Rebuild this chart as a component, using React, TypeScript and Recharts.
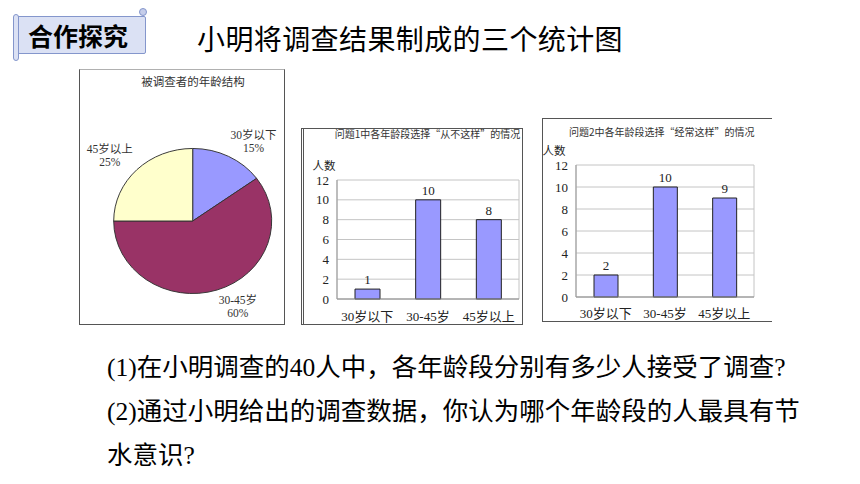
import React from 'react';
import { PieChart, Pie, Cell, BarChart, Bar, XAxis, YAxis, CartesianGrid, LabelList } from 'recharts';

// ---- data ----
const ageGroups = ['30岁以下', '30-45岁', '45岁以上'];
const pieShares = [15, 60, 25];
const neverCounts = [1, 10, 8];
const oftenCounts = [2, 10, 9];
const yTicks = [0, 2, 4, 6, 8, 10, 12];
const pieColors = ['#9999FF', '#993366', '#FFFFCC'];

const heading = '合作探究';
const mainTitle = '小明将调查结果制成的三个统计图';
const pieTitle = '被调查者的年龄结构';
const bar1Title = '问题1中各年龄段选择“从不这样”的情况';
const bar2Title = '问题2中各年龄段选择“经常这样”的情况';
const yLabel = '人数';
const questions = [
  '(1)在小明调查的40人中，各年龄段分别有多少人接受了调查?',
  '(2)通过小明给出的调查数据，你认为哪个年龄段的人最具有节',
  '水意识?',
];

const pieData = ageGroups.map((name, i) => ({ name, value: pieShares[i] }));
const neverData = ageGroups.map((name, i) => ({ name, v: neverCounts[i] }));
const oftenData = ageGroups.map((name, i) => ({ name, v: oftenCounts[i] }));

const CJK = '"Noto Sans CJK SC", sans-serif';
const SERIF = '"Liberation Serif", "Noto Sans CJK SC", serif';
const PIE_SQUASH = 0.918;
const RAD = Math.PI / 180;
const labelAngleNudge = [-8, 8, 4];
const labelRadius = [106, 103, 110];

function Txt({ x, y, size, children, anchor = 'center', family = CJK, weight = 400, color = '#000', spacing = 0 }: any) {
  const tx = anchor === 'center' ? '-50%' : anchor === 'end' ? '-100%' : '0';
  return (
    <div
      style={{
        position: 'absolute', left: x, top: y, transform: `translate(${tx}, -50%)`,
        fontSize: size, lineHeight: 1, whiteSpace: 'nowrap', fontFamily: family,
        fontWeight: weight, color, letterSpacing: spacing,
      }}
    >
      {children}
    </div>
  );
}

const renderPieLabel = (props: any) => {
  const { cx, cy, midAngle, index, name, value } = props;
  const a = (midAngle + labelAngleNudge[index]) * RAD;
  const r = labelRadius[index];
  const x = cx + r * Math.cos(a);
  const y = cy - r * Math.sin(a);
  return (
    <g transform={`translate(${x},${y}) scale(1,${1 / PIE_SQUASH})`}>
      <text textAnchor="middle" fontSize={11.5} fill="#333" fontFamily={SERIF}>
        <tspan x={0} y={-2}>{name}</tspan>
        <tspan x={0} y={11}>{value}%</tspan>
      </text>
    </g>
  );
};

const borderGen = (props: any) => {
  const { offset } = props;
  return [offset.left, offset.left + offset.width];
};

function AgeBars({ data, width, height, top, right, yWidth, xHeight, barSize, xMargin }: any) {
  const tickStyle = { fontSize: 13, fontFamily: SERIF, fill: '#222' };
  return (
    <BarChart width={width} height={height} data={data} margin={{ top, right, left: 0, bottom: 0 }}>
      <CartesianGrid stroke="#c4c4c4" verticalCoordinatesGenerator={borderGen} />
      <XAxis
        dataKey="name" interval={0} height={xHeight} tickLine={false} tickSize={0} tickMargin={xMargin}
        axisLine={{ stroke: '#888' }} tick={tickStyle}
      />
      <YAxis
        domain={[0, 12]} ticks={yTicks} interval={0} width={yWidth} tickLine={false} tickSize={0}
        tickMargin={8} axisLine={{ stroke: '#999' }} tick={tickStyle}
      />
      <Bar dataKey="v" fill="#9999FF" stroke="#222" strokeWidth={1} barSize={barSize} isAnimationActive={false}>
        <LabelList dataKey="v" position="top" offset={5} style={{ fontSize: 13, fontFamily: SERIF, fill: '#222' }} />
      </Bar>
    </BarChart>
  );
}

export default function App() {
  return (
    <div style={{ position: 'absolute', left: 0, top: 0, width: 860, height: 484, background: '#fff', overflow: 'hidden' }}>
      {/* heading scroll */}
      <div style={{ position: 'absolute', left: 15, top: 16, width: 131, height: 38, background: '#dbe1f4', border: '1px solid #8496cc', borderRadius: 2, boxSizing: 'border-box' }} />
      <div style={{ position: 'absolute', left: 13, top: 14, width: 6, height: 47, background: '#dbe1f4', border: '1px solid #8496cc', borderRadius: 3, boxSizing: 'border-box' }} />
      <div style={{ position: 'absolute', left: 139, top: 8, width: 8, height: 8, background: '#c5cdea', border: '1px solid #8496cc', borderRadius: 4, boxSizing: 'border-box' }} />
      <Txt x={28} y={35} size={25} weight={700} anchor="start">{heading}</Txt>

      <Txt x={197} y={38} size={28} anchor="start" spacing={0.4}>{mainTitle}</Txt>

      {/* pie chart box */}
      <div style={{ position: 'absolute', left: 79, top: 69, width: 206, height: 256, border: '1px solid #555', borderTopColor: '#b0b0b0', boxSizing: 'border-box' }} />
      <Txt x={193} y={82} size={11.5} color="#333">{pieTitle}</Txt>
      <div style={{ position: 'absolute', left: 79, top: 69, width: 205, height: 285, transform: `scaleY(${PIE_SQUASH})`, transformOrigin: '113.7px 152px' }}>
        <PieChart width={205} height={285} margin={{ top: 0, right: 0, bottom: 0, left: 0 }}>
          <Pie
            data={pieData} dataKey="value" nameKey="name" cx={113.7} cy={152} outerRadius={79}
            startAngle={90} endAngle={-270} stroke="#333" strokeWidth={1}
            label={renderPieLabel} labelLine={false} isAnimationActive={false}
          >
            {pieData.map((d, i) => <Cell key={d.name} fill={pieColors[i]} />)}
          </Pie>
        </PieChart>
      </div>

      {/* bar chart 1 */}
      <div style={{ position: 'absolute', left: 301, top: 128, width: 222, height: 197, border: '1px solid #555', borderLeft: '3px double #555', boxSizing: 'border-box' }} />
      <div style={{ position: 'absolute', left: 301, top: 128 }}>
        <AgeBars data={neverData} width={221} height={196} top={52} right={3} yWidth={36} xHeight={25} barSize={25} xMargin={13} />
      </div>
      <Txt x={427.5} y={134} size={10} color="#333">{bar1Title}</Txt>
      <Txt x={324} y={166} size={11.5} color="#222">{yLabel}</Txt>

      {/* bar chart 2 */}
      <div style={{ position: 'absolute', left: 541.5, top: 118, width: 230, height: 203.5, borderTop: '1px solid #555', borderLeft: '1px solid #555', borderBottom: '1px solid #555', boxSizing: 'border-box' }} />
      <div style={{ position: 'absolute', left: 542, top: 118 }}>
        <AgeBars data={oftenData} width={217} height={203} top={47} right={5} yWidth={34} xHeight={24} barSize={24} xMargin={12} />
      </div>
      <Txt x={661.7} y={131.7} size={10} color="#333">{bar2Title}</Txt>
      <Txt x={554} y={151} size={11.5} color="#222">{yLabel}</Txt>

      {/* questions */}
      {questions.map((q, i) => (
        <Txt key={i} x={107} y={368 + i * 44} size={25.5} anchor="start" family={SERIF}>{q}</Txt>
      ))}
    </div>
  );
}
